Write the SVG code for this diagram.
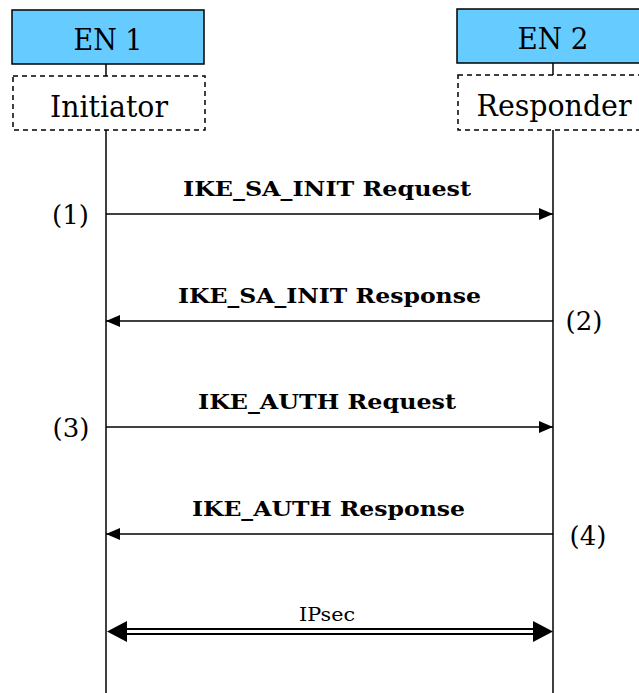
<svg xmlns="http://www.w3.org/2000/svg" width="639" height="693" viewBox="0 0 639 693">
<style>
.en{fill:#66ccff;stroke:#000;stroke-width:1.5}
.role{fill:#fff;stroke:#000;stroke-width:1.5;stroke-dasharray:5,4}
.t{font-family:"DejaVu Serif","Liberation Serif",serif;fill:#000;text-anchor:middle}
.big{font-size:30px}
.lbl{font-size:20.5px;font-weight:bold}
.num{font-size:26px}
.ln{stroke:#000;stroke-width:1.5;fill:none}
</style>
<defs>
<marker id="ah" markerWidth="14" markerHeight="12" refX="14" refY="6" orient="auto" markerUnits="userSpaceOnUse">
<path d="M0,0 L14,6 L0,12 Z" fill="#000"/>
</marker>
</defs>
<rect width="639" height="693" fill="#fff"/>
<g id="en1">
<rect class="en" x="12" y="10" width="192" height="54"/>
<text class="t big" x="108" y="49.5" textLength="69" lengthAdjust="spacingAndGlyphs">EN 1</text>
</g>
<g id="initiator">
<rect class="role" x="13" y="76" width="192" height="54"/>
<text class="t big" x="109" y="116.5" textLength="118" lengthAdjust="spacingAndGlyphs">Initiator</text>
</g>
<g id="en2">
<rect class="en" x="457" y="9" width="190" height="54"/>
<text class="t big" x="553" y="49" textLength="71" lengthAdjust="spacingAndGlyphs">EN 2</text>
</g>
<g id="responder">
<rect class="role" x="458" y="75" width="190" height="55"/>
<text class="t big" x="554" y="116" textLength="155" lengthAdjust="spacingAndGlyphs">Responder</text>
</g>
<g id="connectors">
<line class="ln" x1="106" y1="64" x2="106" y2="76"/>
<line class="ln" x1="553" y1="63" x2="553" y2="75"/>
<line class="ln" x1="106" y1="130" x2="106" y2="693"/>
<line class="ln" x1="553" y1="130" x2="553" y2="693"/>
<line class="ln" x1="106" y1="214" x2="553" y2="214" marker-end="url(#ah)"/>
<line class="ln" x1="553" y1="321" x2="106" y2="321" marker-end="url(#ah)"/>
<line class="ln" x1="106" y1="427" x2="553" y2="427" marker-end="url(#ah)"/>
<line class="ln" x1="553" y1="534" x2="106" y2="534" marker-end="url(#ah)"/>
<line x1="125" y1="629" x2="535" y2="629" stroke="#000" stroke-width="2"/>
<line x1="125" y1="634" x2="535" y2="634" stroke="#000" stroke-width="2"/>
<path d="M107,631.5 L127,621 L127,642 Z" fill="#000"/>
<path d="M553,631.5 L533,621 L533,642 Z" fill="#000"/>
</g>
<g id="labels">
<text class="t lbl" x="327" y="196" textLength="288" lengthAdjust="spacingAndGlyphs">IKE_SA_INIT Request</text>
<text class="t lbl" x="329.5" y="303" textLength="303" lengthAdjust="spacingAndGlyphs">IKE_SA_INIT Response</text>
<text class="t lbl" x="327" y="409" textLength="258" lengthAdjust="spacingAndGlyphs">IKE_AUTH Request</text>
<text class="t lbl" x="328.5" y="516" textLength="273" lengthAdjust="spacingAndGlyphs">IKE_AUTH Response</text>
<text class="t" x="327" y="621" font-size="18" textLength="56" lengthAdjust="spacingAndGlyphs">IPsec</text>
<text class="t num" x="70.5" y="224">(1)</text>
<text class="t num" x="584" y="330">(2)</text>
<text class="t num" x="71" y="437">(3)</text>
<text class="t num" x="588" y="545">(4)</text>
</g>
</svg>
